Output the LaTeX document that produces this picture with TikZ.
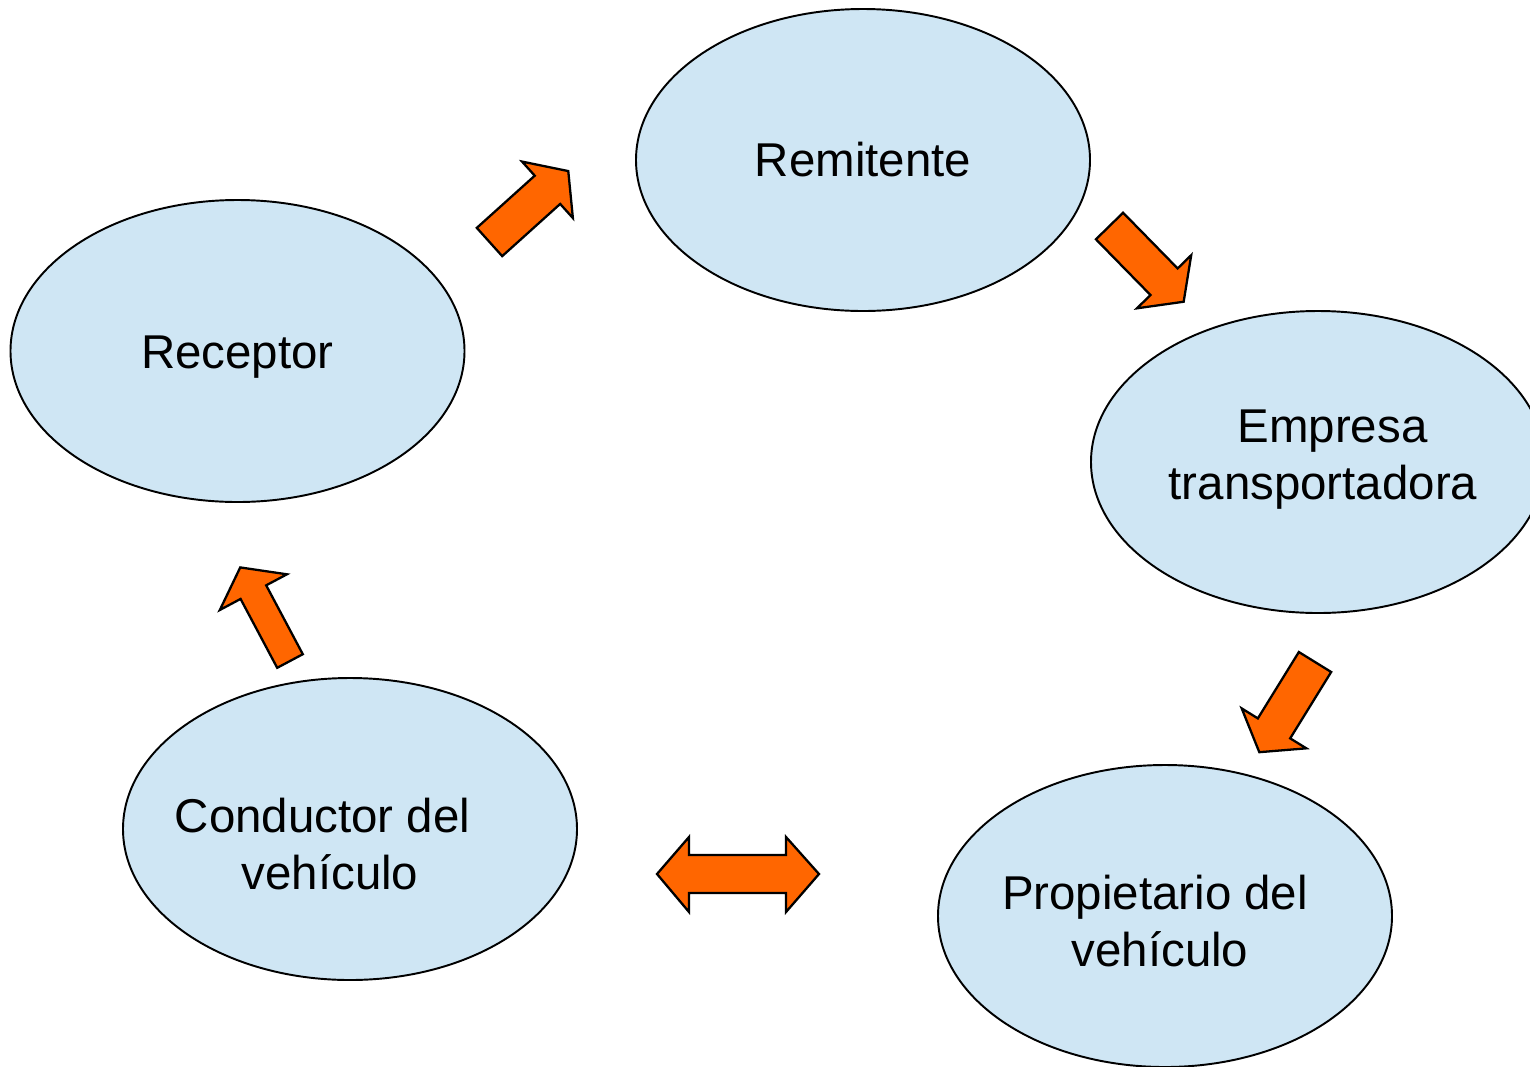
\documentclass[tikz,border=0pt]{standalone}
\usepackage{fontspec}
\setmainfont{Liberation Sans}
\usetikzlibrary{shapes.geometric}
\definecolor{bubble}{RGB}{207,230,244}
\definecolor{flecha}{RGB}{255,102,0}
\tikzset{
  actor/.style={ellipse, draw, fill=bubble, line width=1.1pt, minimum width=9.08cm, minimum height=6.04cm, inner sep=0pt},
  txt/.style={align=center, font=\fontsize{27}{32}\selectfont},
  arrowfill/.style={fill=flecha, draw=black, line width=1.3pt, line join=miter}
}
\newcommand{\blockarrow}[3]{%
  \filldraw[arrowfill, shift={#1}, rotate=#2] (0,-#3) -- (78,-#3) -- (78,-38) -- (106,0) -- (78,38) -- (78,#3) -- (0,#3) -- cycle;}

\begin{document}
\begin{tikzpicture}[x=0.2mm, y=-0.2mm]
\useasboundingbox (0,0) rectangle (1530,1066);
\node[actor] (remitente) at (863,160) {};
\node[actor] (receptor) at (237.5,351) {};
\node[actor] (empresa) at (1318,462) {};
\node[actor] (conductor) at (350,829) {};
\node[actor] (propietario) at (1165,916) {};
\node[txt] (remitente-txt) at (remitente.center) {Remitente};
\node[txt] (receptor-txt) at ([yshift=-1.2mm]receptor.center) {Receptor};
\node[txt] (empresa-txt) at ([xshift=2.9mm,yshift=0.5mm]empresa.center) {Empresa\\transportadora\kern3.8mm};
\node[txt] (conductor-txt) at ([xshift=-4mm,yshift=-3mm]conductor.center) {Conductor del\kern3mm\\vehículo};
\node[txt] (propietario-txt) at ([xshift=-1mm,yshift=-1mm]propietario.center) {Propietario del\kern2mm\\vehículo};
\blockarrow{(489.5,242)}{42}{19}
\blockarrow{(1109.5,226)}{-45.6}{19}
\blockarrow{(1315,662)}{-121.7}{19}
\blockarrow{(290,661)}{118}{14.5}
\filldraw[arrowfill] (657,874) -- (689,837) -- (689,855) -- (786,855) -- (786,837) -- (819,874) -- (786,912) -- (786,893) -- (689,893) -- (689,912) -- cycle;
\end{tikzpicture}
\end{document}
